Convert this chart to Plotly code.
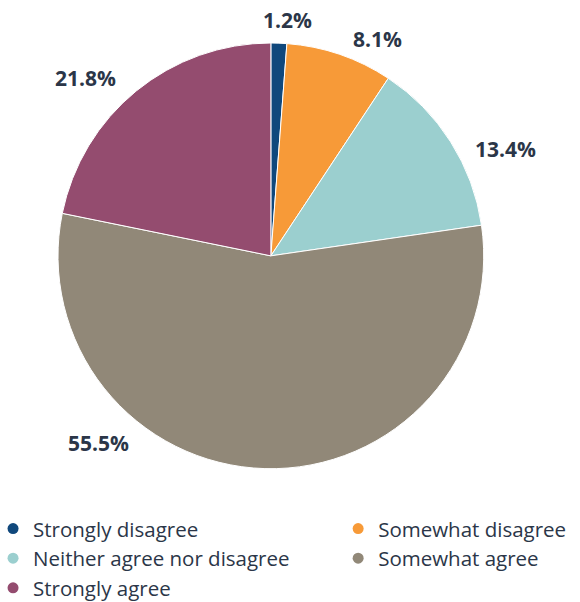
import plotly.graph_objects as go

# Survey responses (percent of respondents)
categories = ["Strongly disagree", "Somewhat disagree", "Neither agree nor disagree",
              "Somewhat agree", "Strongly agree"]
shares = [1.2, 8.1, 13.4, 55.5, 21.8]
colors = ["#10487c", "#f79a38", "#9bcfcf", "#918878", "#944c6f"]
# Legend column for each category (left / right)
legend_column = ["legend", "legend2", "legend", "legend2", "legend"]

# Where each percentage label sits (paper coordinates)
label_x = [0.495, 0.650, 0.872, 0.169, 0.148]
label_y = [0.967, 0.935, 0.752, 0.264, 0.870]

TEXT = "#2b3648"
FONT = "Open Sans"

fig = go.Figure()

fig.add_trace(go.Pie(
    labels=categories,
    values=shares,
    sort=False,
    direction="clockwise",
    rotation=0,
    marker=dict(colors=colors, line=dict(color="white", width=1)),
    textinfo="none",
    hoverinfo="label+percent",
    showlegend=False,
    domain=dict(x=[0.1, 0.834], y=[0.221, 0.929]),
))

# Legend entries drawn as round markers
for name, col, lg in zip(categories, colors, legend_column):
    fig.add_trace(go.Scatter(
        x=[None], y=[None], mode="markers", name=name, legend=lg,
        marker=dict(color=col, size=11, symbol="circle"),
    ))

for v, x, y in zip(shares, label_x, label_y):
    fig.add_annotation(
        x=x, y=y, xref="paper", yref="paper",
        text=f"<b>{v:.1f}%</b>", showarrow=False,
        font=dict(family=FONT, size=21, color=TEXT),
        xanchor="center", yanchor="middle",
    )

legend_style = dict(
    orientation="v", yanchor="top", xanchor="left",
    font=dict(family=FONT, size=20.5, color=TEXT),
    itemwidth=30, tracegroupgap=0, bgcolor="rgba(0,0,0,0)",
)

fig.update_layout(
    width=580, height=602,
    margin=dict(l=0, r=0, t=0, b=0, autoexpand=False),
    paper_bgcolor="white", plot_bgcolor="white",
    xaxis=dict(visible=False), yaxis=dict(visible=False),
    font=dict(family=FONT, color=TEXT),
    legend=dict(x=-0.012, y=0.155, **legend_style),
    legend2=dict(x=0.583, y=0.155, **legend_style),
)

fig.write_html("out.html")
